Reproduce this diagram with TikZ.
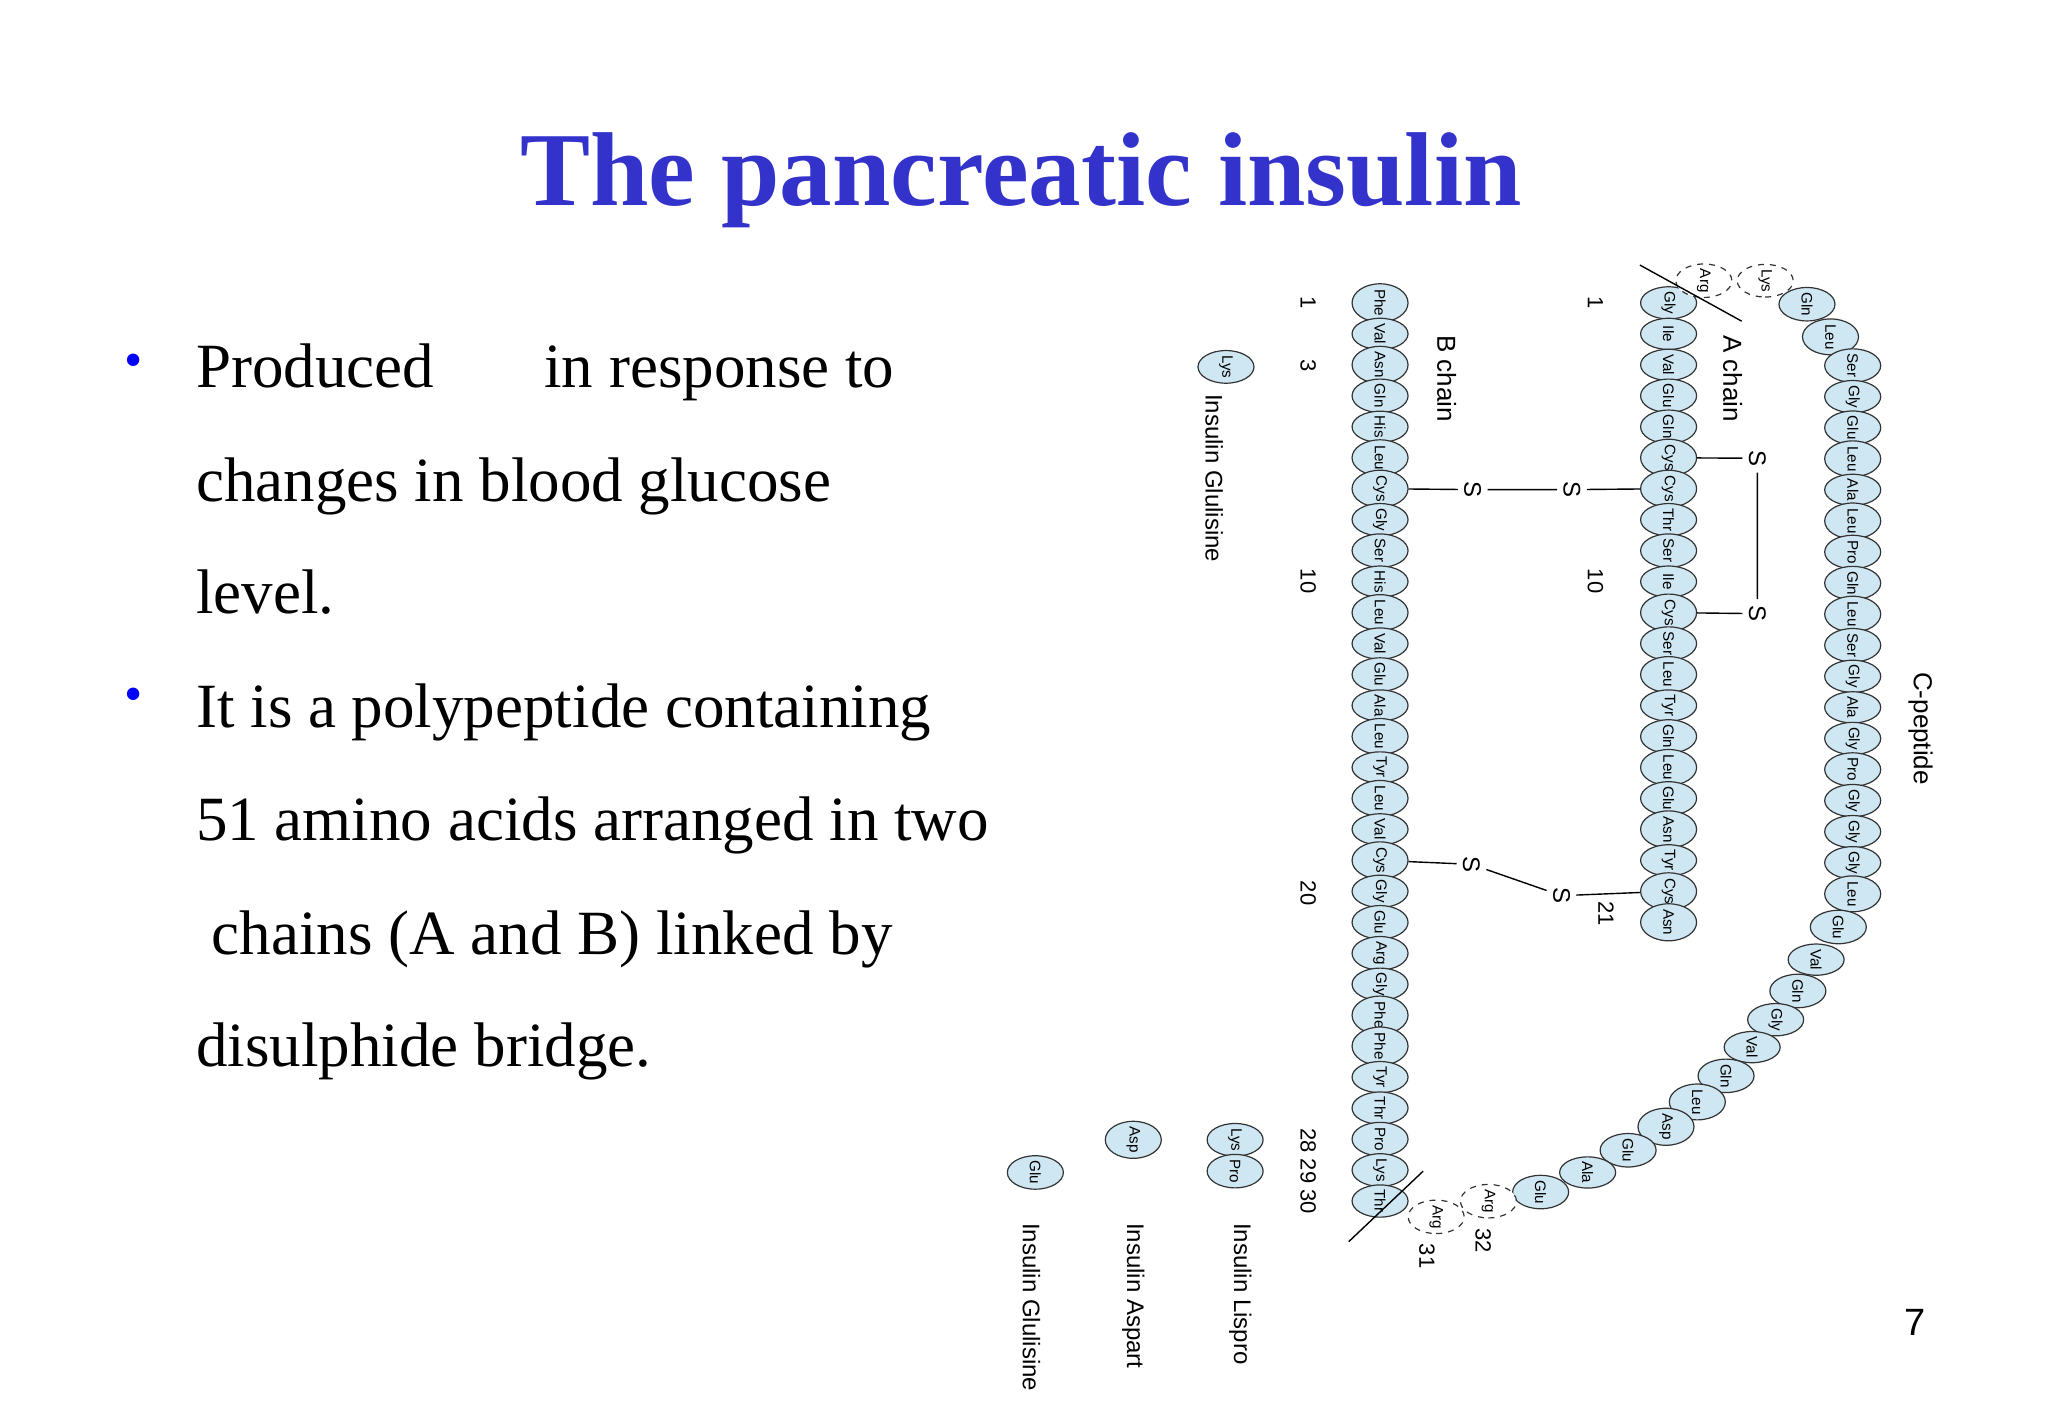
\documentclass[tikz,border=0pt]{standalone}
\usepackage{fontspec}
\setmainfont{Liberation Serif}
\newfontfamily\labfont{Liberation Sans}
\usetikzlibrary{shapes.geometric}
\definecolor{titleblue}{HTML}{3333CC}
\definecolor{aafill}{HTML}{CFE7F3}
\tikzset{
  aa/.style={ellipse,draw=black!80,fill=aafill,line width=0.6pt,rotate=-90,minimum width=15.6pt,
    minimum height=28pt,inner sep=0pt,font=\labfont\fontsize{7.6}{7}\selectfont},
  aadash/.style={aa,dashed,fill=white},
  lbl/.style={rotate=-90,font=\labfont\fontsize{11}{11}\selectfont,inner sep=1pt},
  sulf/.style={lbl,font=\labfont\fontsize{12}{12}\selectfont,inner sep=3pt},
  body/.style={anchor=base west,font=\fontsize{31.5}{31.5}\selectfont,inner sep=0pt}
}
\begin{document}
\begin{tikzpicture}[x=0.6528pt,y=-0.6528pt]
\useasboundingbox (0,0) rectangle (1568.6,1086.1);

% title and bullets
\node[font=\bfseries\fontsize{52.5}{52}\selectfont,text=titleblue] (title) at (782,138) {The pancreatic insulin};
\foreach \y in {280,536}
  \node[text=blue,font=\fontsize{26}{26}\selectfont] at (102,\y) {\textbullet};
\node[body] (t1) at (150,297) {Produced\hspace{1.75em}in response to};
\node[body] (t2) at (150,384) {changes in blood glucose};
\node[body] (t3) at (150,470) {level.};
\node[body] (t4) at (150,557) {It is a polypeptide containing};
\node[body] (t5) at (150,644) {51 amino acids arranged in two};
\node[body] (t6) at (162,731) {chains (A and B) linked by};
\node[body] (t7) at (150,817) {disulphide bridge.};

% B chain
\foreach \n [count=\i] in {Phe,Val,Asn,Gln,His,Leu,Cys,Gly,Ser,His,Leu,Val,Glu,Ala,Leu,Tyr,Leu,Val,Cys,Gly,Glu,Arg,Gly,Phe,Phe,Tyr,Thr,Pro,Lys,Thr}
  \node[aa] (b\i) at (1057,{232+(\i-1)*23.72}) {\n};
% A chain
\foreach \n [count=\i] in {Gly,Ile,Val,Glu,Gln,Cys,Cys,Thr,Ser,Ile,Cys,Ser,Leu,Tyr,Gln,Leu,Glu,Asn,Tyr,Cys,Asn}
  \node[aa] (a\i) at (1278,{232+(\i-1)*23.72}) {\n};
% C-peptide
\node[aadash] (c1) at (1305,215) {Arg};
\node[aadash] (c2) at (1352,215) {Lys};
\node[aa] (c3) at (1384,233) {Gln};
\node[aa] (c4) at (1402,258) {Leu};
\foreach \n [count=\i] in {Ser,Gly,Glu,Leu,Ala,Leu,Pro,Gln,Leu,Ser,Gly,Ala,Gly,Pro,Gly,Gly,Gly,Leu}
  \node[aa] (s\i) at (1419,{280+(\i-1)*23.8}) {\n};
\foreach \n/\x/\y [count=\i] in {Glu/1408/710,Val/1391/735,Gln/1377/759,Gly/1360/781,Val/1342/802,Gln/1322/824,Leu/1300/844,Asp/1276/863,Glu/1247/881,Ala/1216/898,Glu/1180/913}
  \node[aa] (d\i) at (\x,\y) {\n};
\node[aadash] (e2) at (1140,920) {Arg};
\node[aadash] (e1) at (1100,932) {Arg};

% cut marks
\coordinate (cutA1) at (1256,203);
\coordinate (cutA2) at (1334,246);
\draw[line width=0.7pt] (cutA1) -- (cutA2);
\coordinate (cutB1) at (1033,951);
\coordinate (cutB2) at (1090,897);
\draw[line width=0.7pt] (cutB1) -- (cutB2);

% disulphide bridges
\node[sulf] (sa) at (1346,351) {S};
\node[sulf] (sb) at (1346,470) {S};
\draw[line width=0.7pt] (a6) -- (sa) (sa) -- (sb) (sb) -- (a11);
\node[sulf] (sc) at (1204,375) {S};
\node[sulf] (sd) at (1128,375) {S};
\draw[line width=0.7pt] (a7) -- (sc) (sc) -- (sd) (sd) -- (b7);
\node[sulf] (se) at (1196,686) {S};
\node[sulf] (sf) at (1127,662) {S};
\draw[line width=0.7pt] (a20) -- (se) (se) -- (sf) (sf) -- (b19);

% numbers and labels
\node[lbl] (n1) at (1002,232) {1};
\node[lbl] (n3) at (1002,280) {3};
\node[lbl] (n10) at (1002,445) {10};
\node[lbl] (n20) at (1002,684) {20};
\node[lbl] (n28) at (1002,897) {28 29 30};
\node[lbl] (m1) at (1222,232) {1};
\node[lbl] (m10) at (1222,445) {10};
\node[lbl] (m21) at (1230,700) {21};
\node[lbl] (n31) at (1093,962) {31};
\node[lbl] (n32) at (1136,950) {32};
\node[lbl,font=\labfont\fontsize{13}{13}\selectfont] (achain) at (1327,290) {A chain};
\node[lbl,font=\labfont\fontsize{13}{13}\selectfont] (bchain) at (1108,290) {B chain};
\node[lbl,font=\labfont\fontsize{13}{13}\selectfont] (cpep) at (1471,558) {C-peptide};

% analogues
\node[aa] (g1) at (939,281) {Lys};
\node[lbl,anchor=west,font=\labfont\fontsize{12}{12}\selectfont] (glu1) at (930,300) {Insulin Glulisine};
\node[aa] (lis1) at (946,873) {Lys};
\node[aa] (lis2) at (946,897) {Pro};
\node[lbl,anchor=west,font=\labfont\fontsize{12}{12}\selectfont] (lis) at (950,935) {Insulin Lispro};
\node[aa] (asp1) at (868,873) {Asp};
\node[lbl,anchor=west,font=\labfont\fontsize{12}{12}\selectfont] (asp) at (868,935) {Insulin Aspart};
\node[aa] (glu2) at (793,898) {Glu};
\node[lbl,anchor=west,font=\labfont\fontsize{12}{12}\selectfont] (glu) at (790,935) {Insulin Glulisine};

\node[font=\labfont\fontsize{19}{19}\selectfont] (page) at (1467,1013) {7};
\end{tikzpicture}
\end{document}
